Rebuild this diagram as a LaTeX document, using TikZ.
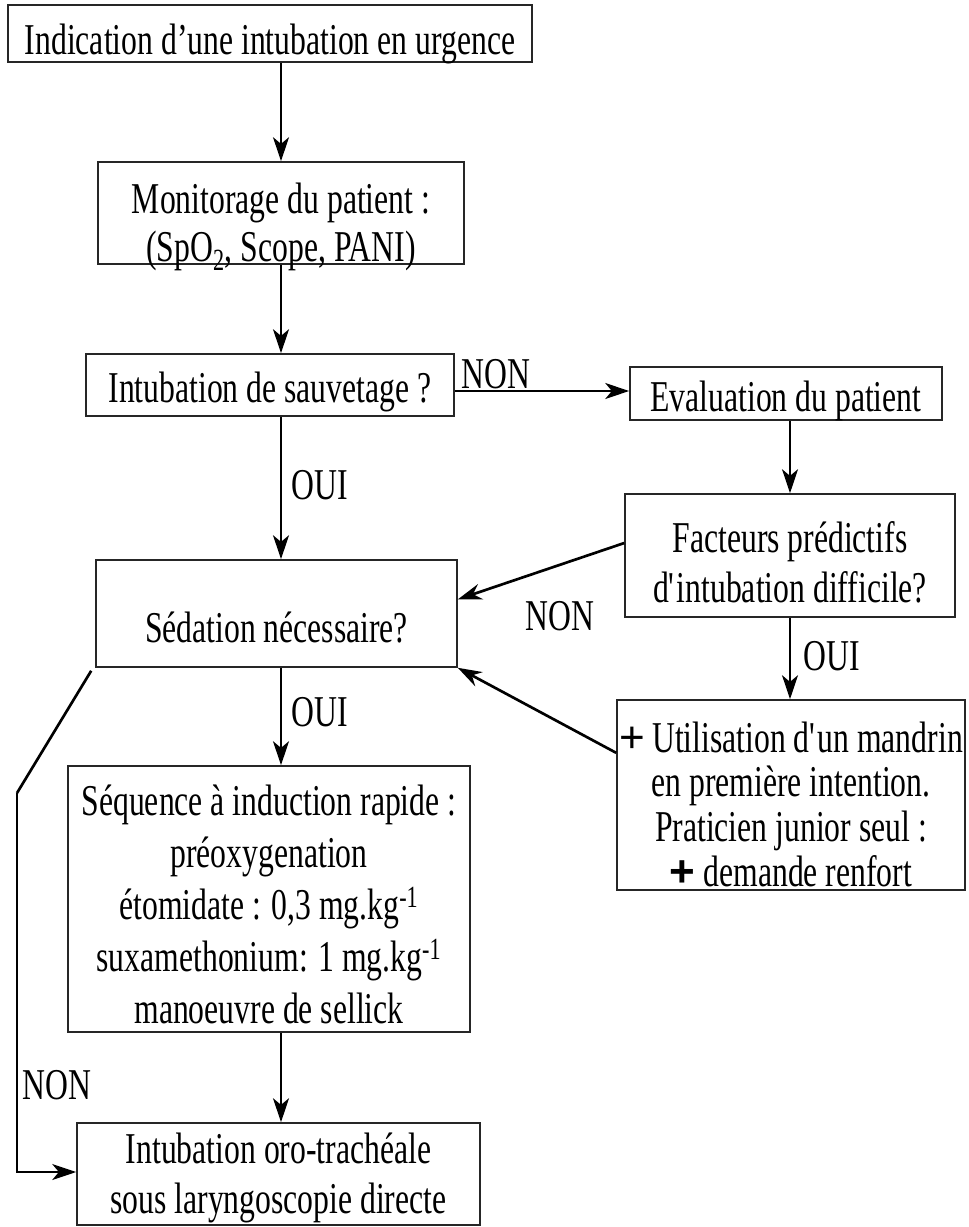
\documentclass[tikz,border=0pt]{standalone}
\usepackage{fontspec}
\setmainfont[FakeStretch=0.72]{Liberation Serif}
\newfontfamily\plusfont{Liberation Sans}
\usetikzlibrary{arrows.meta,calc}
\newcommand\chartfont{\fontsize{33}{40}\selectfont}

\begin{document}
\begin{tikzpicture}[x=0.75pt,y=-0.75pt,
  box/.style={draw=black!85, line width=1.2pt, inner sep=0pt},
  txt/.style={align=center, inner sep=0pt, font=\chartfont},
  link/.style={line width=1.1pt, -{Stealth[length=18pt,width=12pt,inset=5pt]}},
  slant/.style={line width=2pt, -{Stealth[length=18pt,width=12pt,inset=6pt]}},
  lbl/.style={font=\chartfont, inner sep=0pt}]
  \useasboundingbox (0,0) rectangle (968,1227);

  % frames of the steps
  \node[box, minimum width=393pt,    minimum height=42.75pt] (b1) at (270,33.5) {};
  \node[box, minimum width=274.5pt,  minimum height=76.5pt]  (b2) at (281,213) {};
  \node[box, minimum width=276pt,    minimum height=46.5pt]  (b3) at (270,385) {};
  \node[box, minimum width=234pt,    minimum height=39.75pt] (b4) at (786,393.5) {};
  \node[box, minimum width=247.5pt,  minimum height=92.25pt] (b5) at (790,555.5) {};
  \node[box, minimum width=270.75pt, minimum height=80.25pt] (b6) at (276.5,613.5) {};
  \node[box, minimum width=261pt,    minimum height=142.5pt] (b7) at (791,795) {};
  \node[box, minimum width=301.5pt,  minimum height=199.5pt] (b8) at (269,899) {};
  \node[box, minimum width=302.25pt, minimum height=76.5pt]  (b9) at (278.5,1174) {};

  % texts of the steps (set low in their frames)
  \node[txt] (t1) at (270,44) {Indication d’une intubation en urgence};
  \node[txt, font=\fontsize{33}{36}\selectfont] (t2) at (281,227)
    {Monitorage du patient :\\(SpO\textsubscript{2}, Scope, PANI)};
  \node[txt] (t3) at (270,392) {Intubation de sauvetage ?};
  \node[txt] (t4) at (786,401) {Evaluation du patient};
  \node[txt, font=\fontsize{33}{37.5}\selectfont] (t5) at (790,562)
    {Facteurs prédictifs\\d\textquotesingle intubation difficile?};
  \node[txt] (t6) at (276.5,628) {Sédation nécessaire?};
  \node[txt, font=\fontsize{33}{33.5}\selectfont] (t7) at (791,804)
    {{\plusfont +}\,Utilisation d\textquotesingle un mandrin\\en première intention.\\Praticien junior seul :\\{\plusfont\bfseries +} demande renfort};
  \node[txt, font=\fontsize{33}{39}\selectfont] (t8) at (269,904)
    {Séquence à induction rapide :\\préoxygenation\\étomidate : 0,3 mg.kg\textsuperscript{-1}\\suxamethonium: 1 mg.kg\textsuperscript{-1}\\manoeuvre de sellick};
  \node[txt, font=\fontsize{33}{37.5}\selectfont] (t9) at (278.5,1178)
    {Intubation oro-trachéale\\sous laryngoscopie directe};

  % main vertical axis of the chart
  \coordinate (axis) at (281,0);

  % connectors
  \draw[link] (b1.south -| axis) -- (b2.north -| axis);
  \draw[link] (b2.south -| axis) -- (b3.north -| axis);
  \draw[link] ($(b3.east)+(0,6)$) -- ($(b3.east -| b4.west)+(0,6)$);
  \draw[link] (b4.south -| b5.north) -- (b5.north);
  \draw[link] (b3.south -| axis) -- (b6.north -| axis);
  \draw[slant] ($(b5.north west)!0.4!(b5.south west)$) -- ($(b6.north east)!0.37!(b6.south east)$);
  \draw[link] (b5.south) -- (b5.south |- b7.north);
  \draw[slant] ($(b7.north west)!0.28!(b7.south west)$) -- (b6.south east);
  \draw[link] (b6.south -| axis) -- (b8.north -| axis);
  \draw[link] (b8.south -| axis) -- (b9.north -| axis);
  \coordinate (bend) at (17,793);
  \draw[line width=2pt] ($(b6.south west)+(-4,3)$) -- (bend);
  \draw[link] (bend) |- ($(b9.west)+(0,-2)$);

  % branch labels
  \node[lbl] (l1) at (496,374) {NON};
  \node[lbl] (l2) at (320,485) {OUI};
  \node[lbl] (l3) at (560,616) {NON};
  \node[lbl] (l4) at (832,656) {OUI};
  \node[lbl] (l5) at (320,712) {OUI};
  \node[lbl] (l6) at (57,1085) {NON};
\end{tikzpicture}
\end{document}
